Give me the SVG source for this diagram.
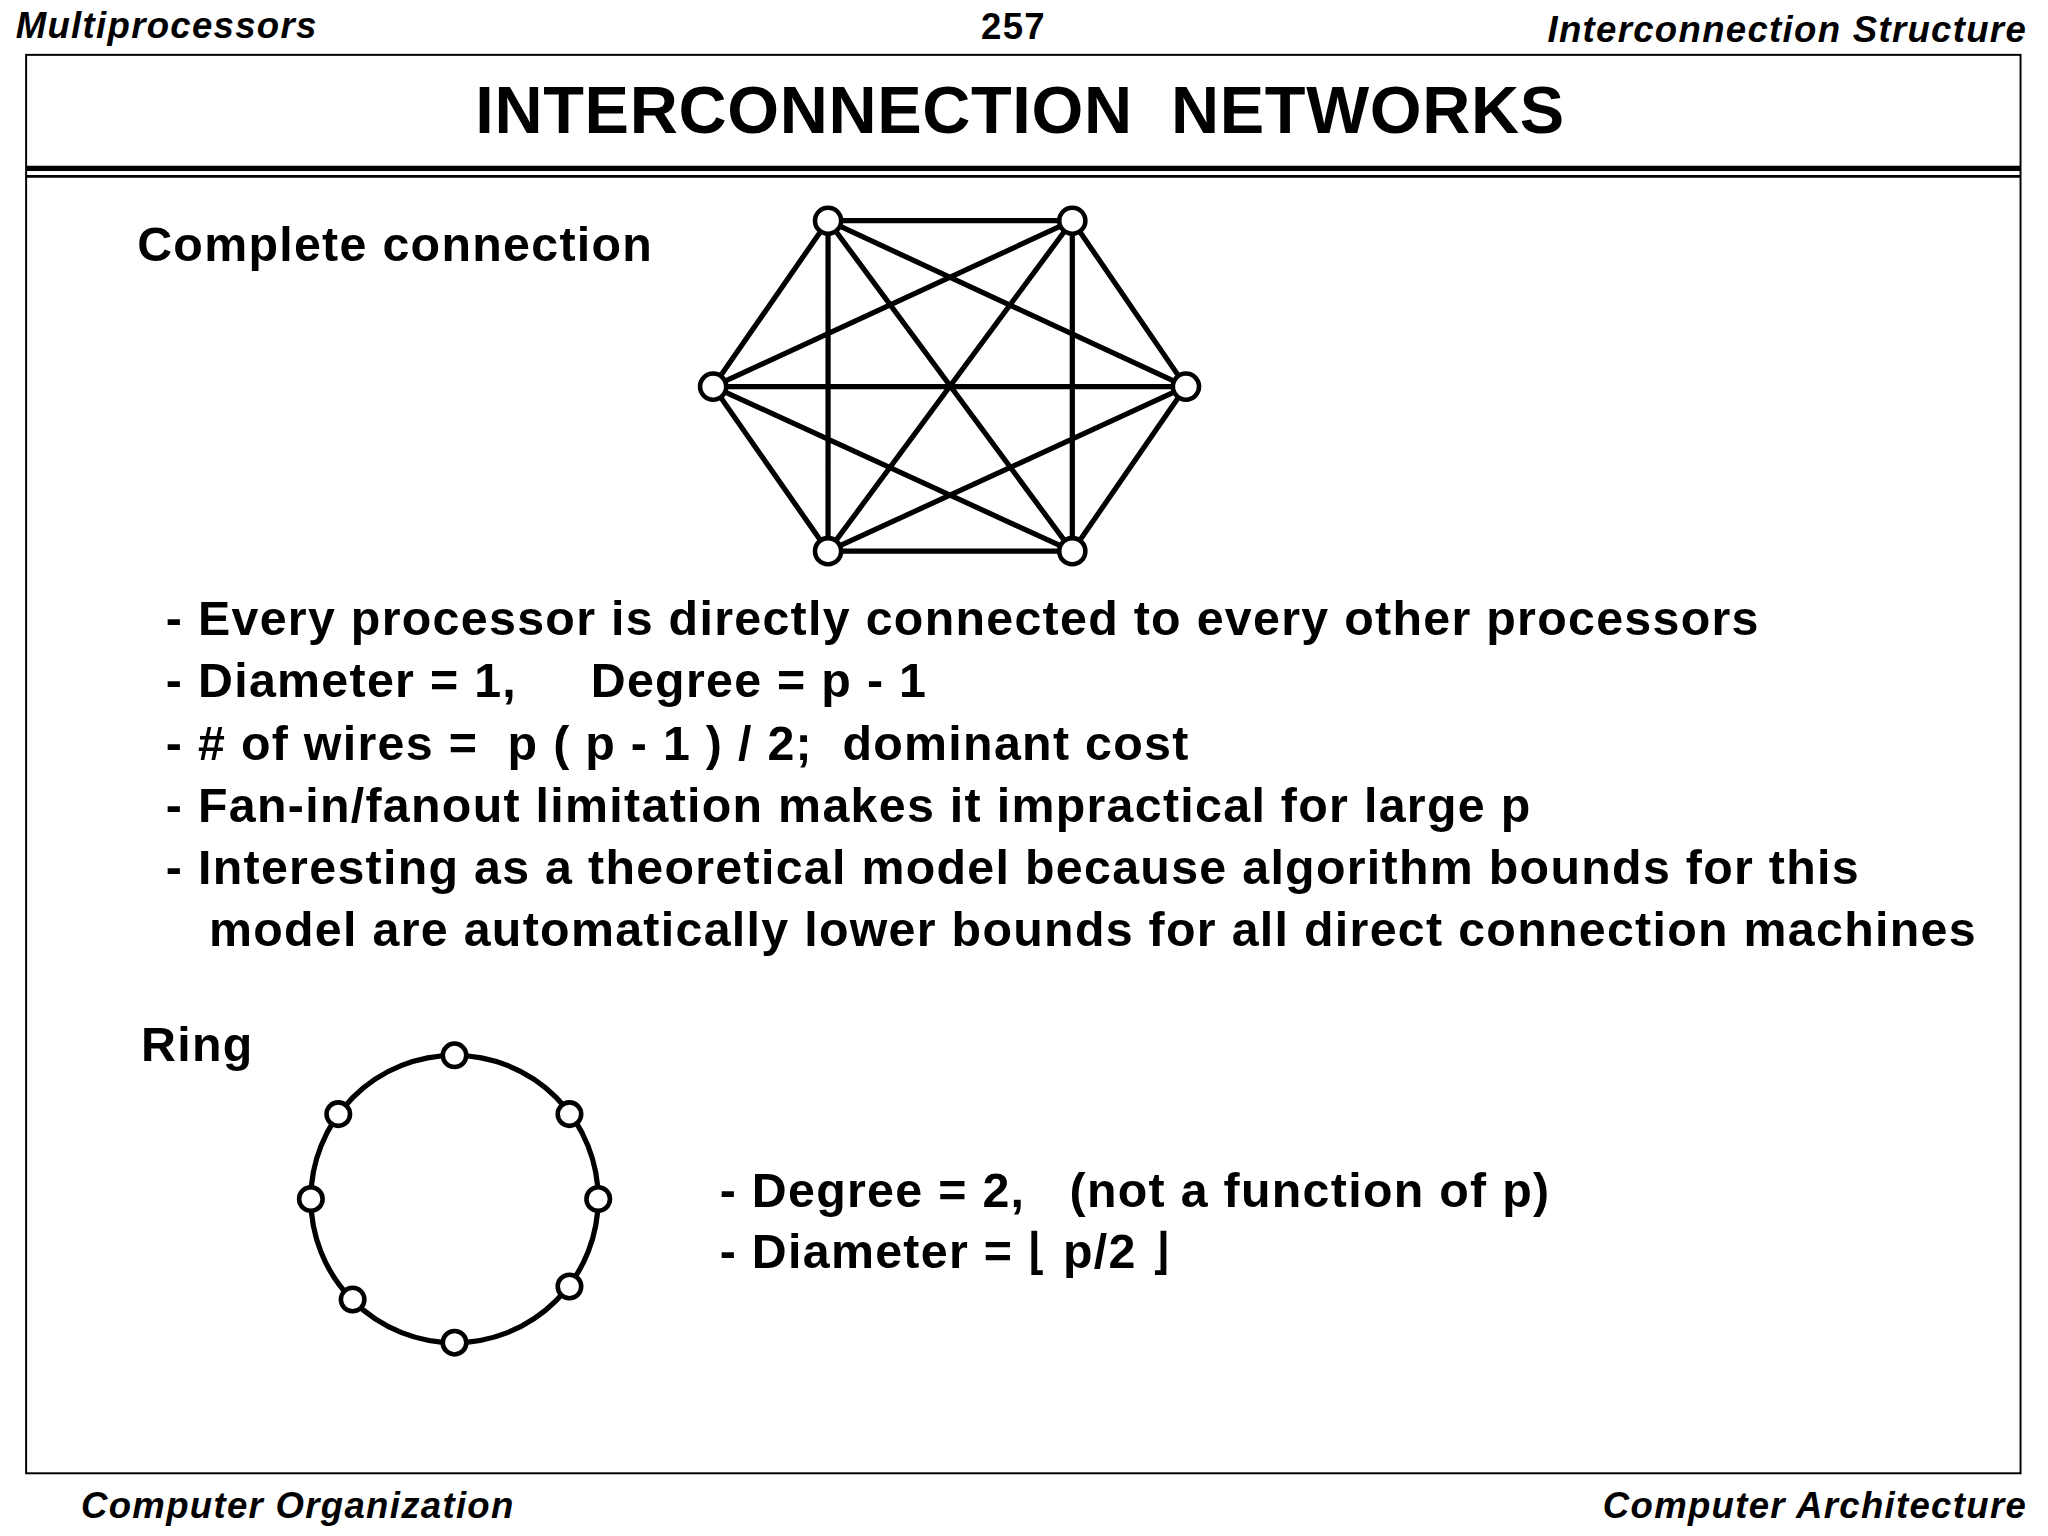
<svg xmlns="http://www.w3.org/2000/svg" width="2048" height="1536" viewBox="0 0 2048 1536">
<style>
text{font-family:"Liberation Sans",Arial,sans-serif;font-weight:bold;fill:#000}
.hd{font-style:italic;font-size:28px;letter-spacing:1px}
.b{font-size:37px;letter-spacing:1px}
.e{stroke:#000;stroke-width:4;fill:none}
.n{fill:#fff;stroke:#000;stroke-width:3.5}
</style>
<rect width="2048" height="1536" fill="#fff"/>
<g transform="scale(1.3061)">
<g id="header">
<text class="hd" x="12" y="29">Multiprocessors</text>
<text class="hd" x="776" y="30" text-anchor="middle" style="font-style:normal">257</text>
<text class="hd" x="1552" y="32" text-anchor="end">Interconnection Structure</text>
</g>
<rect x="20" y="42" width="1527" height="1086" fill="none" stroke="#000" stroke-width="1.5"/>
<text x="781" y="102" font-size="51" letter-spacing="0.5" text-anchor="middle" xml:space="preserve">INTERCONNECTION  NETWORKS</text>
<line x1="20" y1="129" x2="1547" y2="129" stroke="#000" stroke-width="4"/>
<line x1="20" y1="135" x2="1547" y2="135" stroke="#000" stroke-width="2"/>
<text class="b" x="105" y="200">Complete connection</text>
<g id="connectors">
<path class="e" d="M634,169L821,169M634,169L546,296M634,169L908,296M634,169L634,422M634,169L821,422M821,169L546,296M821,169L908,296M821,169L634,422M821,169L821,422M546,296L908,296M546,296L634,422M546,296L821,422M908,296L634,422M908,296L821,422M634,422L821,422"/>
<circle class="e" cx="348" cy="918" r="110"/>
</g>
<g id="complete-nodes">
<circle class="n" cx="634" cy="169" r="10"/><circle class="n" cx="821" cy="169" r="10"/>
<circle class="n" cx="546" cy="296" r="10"/><circle class="n" cx="908" cy="296" r="10"/>
<circle class="n" cx="634" cy="422" r="10"/><circle class="n" cx="821" cy="422" r="10"/>
</g>
<text class="b" x="127" y="486">- Every processor is directly connected to every other processors</text>
<text class="b" x="127" y="534" xml:space="preserve">- Diameter = 1,     Degree = p - 1</text>
<text class="b" x="127" y="582" xml:space="preserve">- # of wires =  p ( p - 1 ) / 2;  dominant cost</text>
<text class="b" x="127" y="629">- Fan-in/fanout limitation makes it impractical for large p</text>
<text class="b" x="127" y="677">- Interesting as a theoretical model because algorithm bounds for this</text>
<text class="b" x="160" y="724">model are automatically lower bounds for all direct connection machines</text>
<text class="b" x="108" y="812">Ring</text>
<g id="ring-nodes">
<circle class="n" cx="348" cy="808" r="9"/><circle class="n" cx="436" cy="853" r="9"/>
<circle class="n" cx="458" cy="918" r="9"/><circle class="n" cx="436" cy="985" r="9"/>
<circle class="n" cx="348" cy="1028" r="9"/><circle class="n" cx="270" cy="995" r="9"/>
<circle class="n" cx="238" cy="918" r="9"/><circle class="n" cx="259" cy="853" r="9"/>
</g>
<text class="b" x="551" y="924" xml:space="preserve">- Degree = 2,   (not a function of p)</text>
<text class="b" x="551" y="971">- Diameter = ⌊ p/2 ⌋</text>
<g id="footer">
<text class="hd" x="62" y="1162">Computer Organization</text>
<text class="hd" x="1552" y="1162" text-anchor="end">Computer Architecture</text>
</g>
</g>
</svg>
